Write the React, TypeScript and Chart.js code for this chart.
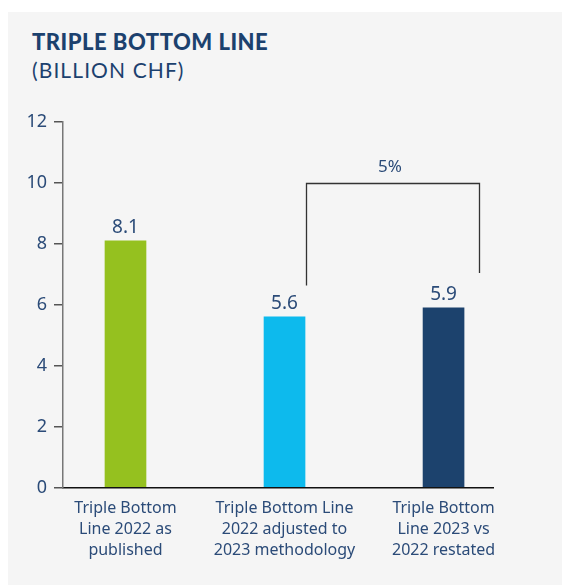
import React, { useEffect, useRef } from "react";
import { Chart, registerables } from "chart.js";

Chart.register(...registerables);

const categories: string[][] = [
  ["Triple Bottom", "Line 2022 as", "published"],
  ["Triple Bottom Line", "2022 adjusted to", "2023 methodology"],
  ["Triple Bottom", "Line 2023 vs", "2022 restated"],
];
const values: number[] = [8.1, 5.6, 5.9];
const valueLabels: string[] = ["8.1", "5.6", "5.9"];
const barColors: string[] = ["#95c11f", "#0dbaed", "#1c426d"];
const yTicks: number[] = [0, 2, 4, 6, 8, 10, 12];
const bracketLabel = "5%";
// bracket: from category index (with offset) to category index, at value level
const bracketFrom = 1.135;
const bracketTo = 2.22;
const bracketTop = 10;
const bracketLeftEnd = 6.63;
const bracketRightEnd = 7.04;

const TEXT = "#2b4b78";
const FONT = "'Noto Sans', sans-serif";

const valueLabelPlugin = {
  id: "valueLabels",
  afterDatasetsDraw(chart: any) {
    const ctx = chart.ctx;
    const meta = chart.getDatasetMeta(0);
    ctx.save();
    ctx.fillStyle = TEXT;
    ctx.font = `19px ${FONT}`;
    ctx.textAlign = "center";
    ctx.textBaseline = "alphabetic";
    meta.data.forEach((bar: any, i: number) => {
      ctx.fillText(valueLabels[i], bar.x, bar.y - 8);
    });
    ctx.restore();
  },
};

const bracketPlugin = {
  id: "bracket",
  afterDatasetsDraw(chart: any) {
    const ctx = chart.ctx;
    const xs = chart.scales.x;
    const ys = chart.scales.y;
    const x1 = Math.round(xs.getPixelForValue(bracketFrom)) + 0.5;
    const x2 = Math.round(xs.getPixelForValue(bracketTo)) + 0.5;
    const yt = Math.round(ys.getPixelForValue(bracketTop)) + 0.5;
    const yl = ys.getPixelForValue(bracketLeftEnd);
    const yr = ys.getPixelForValue(bracketRightEnd);
    ctx.save();
    ctx.strokeStyle = "#333333";
    ctx.lineWidth = 1.3;
    ctx.beginPath();
    ctx.moveTo(x1, yl);
    ctx.lineTo(x1, yt);
    ctx.lineTo(x2, yt);
    ctx.lineTo(x2, yr);
    ctx.stroke();
    ctx.fillStyle = TEXT;
    ctx.font = `17px ${FONT}`;
    ctx.textAlign = "center";
    ctx.textBaseline = "middle";
    ctx.fillText(bracketLabel, (x1 + x2) / 2 - 3, yt - 16);
    ctx.restore();
  },
};

export default function App() {
  const ref = useRef<HTMLCanvasElement | null>(null);
  useEffect(() => {
    if (!ref.current) return;
    const chart = new Chart(ref.current, {
      type: "bar",
      data: {
        datasets: [
          {
            data: values.map((v, i) => ({ x: i, y: v })),
            backgroundColor: barColors,
            barThickness: 41,
            borderWidth: 0,
          },
        ],
      },
      options: {
        animation: false,
        responsive: false,
        maintainAspectRatio: false,
        layout: { padding: { top: 122, right: 69, left: 0, bottom: 0 } },
        plugins: { legend: { display: false }, tooltip: { enabled: false } },
        scales: {
          x: {
            type: "linear",
            offset: false,
            min: -0.393,
            max: 2.311,
            afterBuildTicks: (scale: any) => {
              scale.ticks = categories.map((_, i) => ({ value: i }));
            },
            afterFit: (scale: any) => {
              scale.height = 97.5;
            },
            border: { display: true, color: "#111111", width: 1.5 },
            grid: { display: false, drawTicks: false },
            ticks: {
              autoSkip: false,
              maxRotation: 0,
              padding: 11,
              color: TEXT,
              font: { family: FONT, size: 16, lineHeight: 1.3 },
              callback: (v: any) => categories[v as number],
            },
          },
          y: {
            min: 0,
            max: 12,
            afterBuildTicks: (scale: any) => {
              scale.ticks = yTicks.map((v) => ({ value: v }));
            },
            afterFit: (scale: any) => {
              scale.width = 63;
            },
            border: { display: true, color: "#777777", width: 1.5 },
            grid: {
              drawOnChartArea: false,
              drawTicks: true,
              tickLength: 9,
              color: "#555555",
              lineWidth: 1.5,
            },
            ticks: {
              padding: 7,
              color: TEXT,
              font: { family: FONT, size: 18 },
            },
          },
        },
      },
      plugins: [valueLabelPlugin, bracketPlugin],
    });
    return () => chart.destroy();
  }, []);

  return (
    <div style={{ position: "absolute", left: 0, top: 0, width: 562, height: 585, background: "#ffffff" }}>
      <div style={{ position: "absolute", left: 8, top: 12, width: 554, height: 573, background: "#f5f5f5" }} />
      <div
        style={{
          position: "absolute",
          left: 32,
          top: 29.3,
          fontFamily: "Lato, sans-serif",
          fontWeight: 900,
          fontSize: 22,
          lineHeight: "26.4px",
          color: "#1c416e",
          whiteSpace: "nowrap",
          letterSpacing: 0.5,
        }}
      >
        TRIPLE BOTTOM LINE
      </div>
      <div
        style={{
          position: "absolute",
          left: 32,
          top: 57.3,
          fontFamily: "Lato, sans-serif",
          fontWeight: 400,
          fontSize: 21,
          lineHeight: "25.2px",
          color: "#1c416e",
          whiteSpace: "nowrap",
          letterSpacing: 1.1,
        }}
      >
        (BILLION CHF)
      </div>
      <canvas ref={ref} width={562} height={585} style={{ position: "absolute", left: 0, top: 0 }} />
    </div>
  );
}
